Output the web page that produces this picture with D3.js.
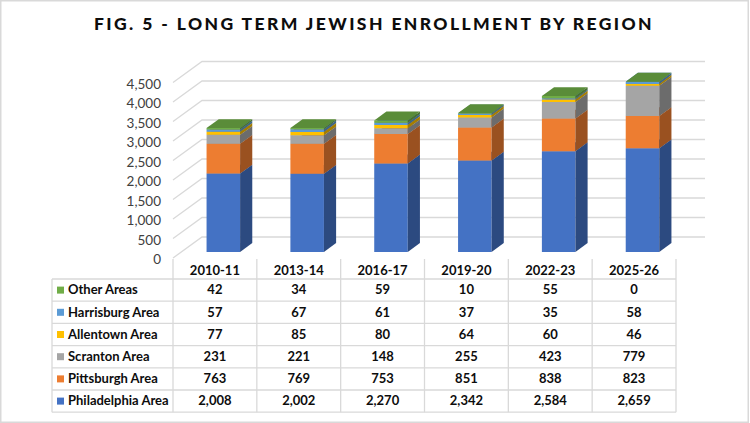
<!DOCTYPE html>
<html>
<head>
<meta charset="utf-8">
<script src="https://cdn.jsdelivr.net/npm/d3@7"></script>
<style>
    body { margin: 0; background: #fff; }
    text { font-family: Lato, "Open Sans", sans-serif; }
</style>
</head>
<body>
<div id="chart"></div>
<script>

// DATA

var categories = ["2010-11", "2013-14", "2016-17", "2019-20", "2022-23", "2025-26"];
var regions = ["Philadelphia Area", "Pittsburgh Area", "Scranton Area", "Allentown Area", "Harrisburg Area", "Other Areas"];
var philadelphia = [2008, 2002, 2270, 2342, 2584, 2659];
var pittsburgh = [763, 769, 753, 851, 838, 823];
var scranton = [231, 221, 148, 255, 423, 779];
var allentown = [77, 85, 80, 64, 60, 46];
var harrisburg = [57, 67, 61, 37, 35, 58];
var other = [42, 34, 59, 10, 55, 0];
var yTicks = [0, 500, 1000, 1500, 2000, 2500, 3000, 3500, 4000, 4500];

var colors = ["#4472C4", "#ED7D31", "#A5A5A5", "#FFC000", "#5B9BD5", "#70AD47"];

// LAYOUT

var width = 750;
var height = 423;
var plotLeft = 173, plotRight = 676;
var floorY = 258, topY = 82.5;
var depthX = 29, depthY = -21;     // full depth of the 3d box
var barFront = 0.29, barBack = 0.71; // bar position in depth
var tableTop = 259, headerBottom = 279, rowH = 22.2, labelLeft = 52;
var tableFont = "13px";

var series = [philadelphia, pittsburgh, scranton, allentown, harrisburg, other];

var rows = categories.map((c, i) => {
    let r = { category: c };
    regions.forEach((name, k) => r[name] = series[k][i]);
    return r;
});

var stacked = d3.stack().keys(regions)(rows);

var svg = d3.select("#chart").append("svg")
    .attr("width", width)
    .attr("height", height);

svg.append("rect")
    .attr("x", 0.75).attr("y", 0.75)
    .attr("width", width - 2.5).attr("height", height - 1.5)
    .attr("fill", "#fff")
    .attr("stroke", "#d9d9d9")
    .attr("stroke-width", 1.5);

svg.append("text")
    .attr("x", width / 2 - 1)
    .attr("y", 30)
    .attr("text-anchor", "middle")
    .style("font-size", "17.5px")
    .style("font-weight", "900")
    .style("letter-spacing", "2.4px")
    .attr("fill", "#0d0d0d")
    .text("FIG. 5 - LONG TERM JEWISH ENROLLMENT BY REGION");

var x = d3.scaleBand()
    .domain(categories)
    .range([plotLeft, plotRight])
    .padding(0);

var y = d3.scaleLinear()
    .domain([0, 4500])
    .range([floorY, topY]);

// gridlines: left wall diagonal + back wall
var grid = svg.append("g").attr("class", "grid");
yTicks.forEach(t => {
    grid.append("path")
        .attr("d", "M" + plotLeft + "," + y(t) +
            "L" + (plotLeft + depthX) + "," + (y(t) + depthY) +
            "L" + (plotRight + depthX) + "," + (y(t) + depthY))
        .attr("fill", "none")
        .attr("stroke", "#d9d9d9")
        .attr("stroke-width", 1.3);
});

var y_axis = d3.axisLeft(y)
    .tickValues(yTicks)
    .tickSize(0)
    .tickPadding(12)
    .tickFormat(d3.format(","));

svg.append("g")
    .attr("class", "y axis")
    .attr("transform", "translate(" + plotLeft + ",1.5)")
    .call(y_axis)
    .call(g => g.select(".domain").remove())
    .selectAll("text")
    .style("font-family", "Lato, sans-serif")
    .style("font-size", "13.5px")
    .attr("fill", "#404040");

// 3d stacked bars
var frontW = x.bandwidth() * 0.4;
var ox1 = barFront * depthX, oy1 = barFront * depthY;
var dx = (barBack - barFront) * depthX, dy = (barBack - barFront) * depthY;

var bars = svg.append("g").attr("class", "bars");
categories.forEach((c, i) => {
    let x0 = x(c) + x.bandwidth() * 0.3 + ox1;
    let x1 = x0 + frontW;
    stacked.forEach((s, k) => {
        let yb = y(s[i][0]) + oy1;
        let yt = y(s[i][1]) + oy1;
        let col = d3.color(colors[k]);
        let g = bars.append("g");
        g.append("path")
            .attr("d", "M" + x0 + "," + yb + "L" + x1 + "," + yb + "L" + x1 + "," + yt + "L" + x0 + "," + yt + "Z")
            .attr("fill", colors[k]);
        g.append("path")
            .attr("d", "M" + x1 + "," + yb + "L" + (x1 + dx) + "," + (yb + dy) +
                "L" + (x1 + dx) + "," + (yt + dy) + "L" + x1 + "," + yt + "Z")
            .attr("fill", col.darker(1.2));
        g.append("path")
            .attr("d", "M" + x0 + "," + yt + "L" + x1 + "," + yt +
                "L" + (x1 + dx) + "," + (yt + dy) + "L" + (x0 + dx) + "," + (yt + dy) + "Z")
            .attr("fill", col.darker(0.6));
    });
});

// data table
var table = svg.append("g").attr("class", "table");
var lineColor = "#d9d9d9";
var tableBottom = headerBottom + rowH * regions.length;

categories.concat([null]).forEach((c, i) => {
    let xv = c ? x(c) : plotRight;
    table.append("line")
        .attr("x1", xv).attr("x2", xv)
        .attr("y1", tableTop).attr("y2", tableBottom)
        .attr("stroke", lineColor).attr("stroke-width", 1.3);
});
table.append("line")
    .attr("x1", labelLeft).attr("x2", labelLeft)
    .attr("y1", headerBottom).attr("y2", tableBottom)
    .attr("stroke", lineColor).attr("stroke-width", 1.3);
d3.range(regions.length + 1).forEach(r => {
    let yv = headerBottom + r * rowH;
    table.append("line")
        .attr("x1", labelLeft).attr("x2", plotRight)
        .attr("y1", yv).attr("y2", yv)
        .attr("stroke", lineColor).attr("stroke-width", 1.3);
});

categories.forEach(c => {
    table.append("text")
        .attr("x", x(c) + x.bandwidth() / 2)
        .attr("y", (tableTop + headerBottom) / 2 + 3)
        .attr("text-anchor", "middle")
        .attr("dominant-baseline", "middle")
        .style("font-size", tableFont)
        .style("font-weight", "bold")
        .attr("fill", "#0d0d0d")
        .text(c);
});

// rows top to bottom: reverse of stack order
var fmt = d3.format(",");
regions.slice().reverse().forEach((name, r) => {
    let k = regions.indexOf(name);
    let cy = headerBottom + r * rowH + rowH / 2;
    table.append("rect")
        .attr("x", 57).attr("y", cy - 3.5)
        .attr("width", 7).attr("height", 7)
        .attr("fill", colors[k]);
    table.append("text")
        .attr("x", 68)
        .attr("y", cy + 1)
        .attr("dominant-baseline", "middle")
        .style("font-size", tableFont)
        .style("font-weight", "bold")
        .attr("fill", "#0d0d0d")
        .text(name);
    categories.forEach((c, i) => {
        table.append("text")
            .attr("x", x(c) + x.bandwidth() / 2)
            .attr("y", cy + 1)
            .attr("text-anchor", "middle")
            .attr("dominant-baseline", "middle")
            .style("font-size", tableFont)
            .style("font-weight", "bold")
            .attr("fill", "#0d0d0d")
            .text(fmt(series[k][i]));
    });
});

</script>
</body>
</html>
